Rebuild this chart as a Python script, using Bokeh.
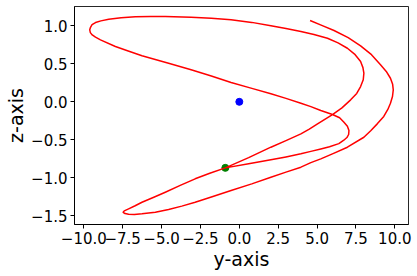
from bokeh.plotting import figure
from bokeh.models import FixedTicker, CustomJSTickFormatter
from bokeh.embed import file_html
from bokeh.resources import INLINE

# trajectory projected on the y-z plane
traj_y = [4.55, 5.30, 6.09, 7.00, 7.80, 8.50, 9.08, 9.45, 9.72, 9.86, 9.90, 9.85, 9.72, 9.55,
          9.29, 8.87, 8.45, 8.01, 6.95, 6.10, 5.24, 4.60, 3.96, 3.00, 2.03, 0.80, -0.53, -1.70,
          -2.84, -3.70, -4.55, -5.40, -6.26, -6.75, -7.12, -7.35, -7.47, -7.40, -7.12, -6.70,
          -6.26, -5.50, -4.76, -3.80, -2.84, -1.90, -0.90, 0.60, 2.03, 3.00, 3.96, 4.50, 5.03,
          5.99, 6.60, 7.16, 7.55, 7.80, 7.97, 8.01, 7.95, 7.80, 7.45, 6.95, 6.35, 5.67, 4.80,
          3.96, 3.00, 2.03, 0.80, -0.53, -1.80, -3.10, -4.76, -5.70, -6.69, -7.60, -8.40, -8.90,
          -9.25, -9.47, -9.57, -9.62, -9.58, -9.46, -9.25, -8.93, -7.97, -7.10, -6.26, -4.55,
          -3.10, -1.80, -0.53, 0.75, 2.03, 3.00, 3.96, 4.60, 5.24, 5.99, 6.45, 6.73, 6.95, 7.05,
          7.03, 6.92, 6.72, 6.40, 5.80, 5.24, 4.60, 3.96, 3.00, 2.03, 0.60, -0.90]
traj_z = [1.07, 1.005, 0.938, 0.845, 0.737, 0.62, 0.487, 0.40, 0.31, 0.23, 0.158, 0.07, -0.018,
          -0.10, -0.193, -0.29, -0.38, -0.466, -0.597, -0.675, -0.75, -0.80, -0.86, -0.925,
          -0.992, -1.08, -1.167, -1.245, -1.321, -1.372, -1.417, -1.452, -1.474, -1.481, -1.479,
          -1.470, -1.453, -1.435, -1.408, -1.367, -1.321, -1.255, -1.189, -1.10, -1.013, -0.94,
          -0.869, -0.735, -0.597, -0.51, -0.421, -0.36, -0.29, -0.167, -0.08, 0.026, 0.11, 0.201,
          0.29, 0.376, 0.45, 0.53, 0.62, 0.705, 0.775, 0.837, 0.885, 0.925, 0.965, 1.0, 1.045,
          1.079, 1.10, 1.113, 1.122, 1.122, 1.118, 1.105, 1.087, 1.065, 1.043, 1.015, 0.98,
          0.947, 0.91, 0.88, 0.85, 0.815, 0.728, 0.665, 0.605, 0.508, 0.421, 0.34, 0.254, 0.18,
          0.105, 0.045, -0.018, -0.063, -0.114, -0.167, -0.21, -0.268, -0.32, -0.378, -0.43,
          -0.47, -0.505, -0.55, -0.59, -0.62, -0.652, -0.684, -0.725, -0.763, -0.815, -0.869]

origin_y = [0.0]
origin_z = [0.0]
end_y = [-0.90]
end_z = [-0.869]

x_ticks = [-10.0, -7.5, -5.0, -2.5, 0.0, 2.5, 5.0, 7.5, 10.0]
y_ticks = [-1.5, -1.0, -0.5, 0.0, 0.5, 1.0]

p = figure(frame_width=334, frame_height=218,
           x_range=(-10.6, 10.88), y_range=(-1.614, 1.254),
           output_backend="svg", toolbar_location=None,
           min_border_left=74, min_border_right=9, min_border_top=6, min_border_bottom=52,
           background_fill_color="white", border_fill_color="white")

p.grid.visible = False
p.outline_line_color = "black"
p.outline_line_width = 1
p.outline_line_alpha = 0.85

p.scatter(end_y, end_z, size=7, color="green", marker="circle")
p.line(traj_y, traj_z, line_color="red", line_width=1.5, line_join="round")
p.scatter(origin_y, origin_z, size=7, color="blue", marker="circle")

fmt = CustomJSTickFormatter(code="return tick.toFixed(1).replace('-', '\u2212');")
p.xaxis.ticker = FixedTicker(ticks=x_ticks)
p.yaxis.ticker = FixedTicker(ticks=y_ticks)
p.xaxis.formatter = fmt
p.yaxis.formatter = fmt

for ax in (p.xaxis[0], p.yaxis[0]):
    ax.major_tick_out = 4
    ax.major_tick_in = 0
    ax.minor_tick_out = 0
    ax.minor_tick_in = 0
    ax.major_tick_line_color = "black"
    ax.axis_line_color = "black"
    ax.major_label_text_font = "DejaVu Sans"
    ax.major_label_text_font_size = "15px"
    ax.major_label_text_color = "black"
    ax.major_label_standoff = 3
    ax.axis_label_text_font = "DejaVu Sans"
    ax.axis_label_text_font_size = "19px"
    ax.axis_label_text_font_style = "normal"
    ax.axis_label_text_color = "black"
    ax.axis_label_standoff = 1

p.xaxis.axis_label = "y-axis"
p.yaxis.axis_label = "z-axis"

open("out.html", "w").write(file_html(p, INLINE))
